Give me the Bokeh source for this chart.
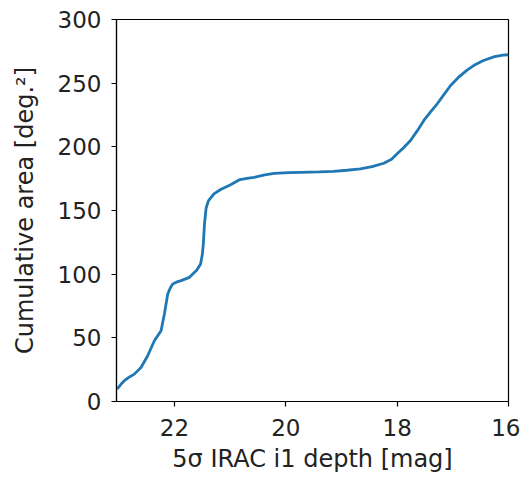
from bokeh.plotting import figure
from bokeh.models import Range1d, FixedTicker
from bokeh.embed import file_html
from bokeh.resources import INLINE

# 5-sigma IRAC i1 depth [mag] and cumulative area [deg^2]
depth = [23.03, 22.96, 22.90, 22.80, 22.72, 22.60, 22.48, 22.36, 22.24, 22.18,
         22.12, 22.07, 22.03, 21.95, 21.88, 21.73, 21.60, 21.53, 21.50, 21.48,
         21.46, 21.43, 21.39, 21.29, 21.17, 21.00, 20.84, 20.70, 20.57, 20.40,
         20.21, 19.95, 19.73, 19.40, 19.14, 18.90, 18.66, 18.45, 18.24, 18.10,
         18.00, 17.88, 17.76, 17.64, 17.52, 17.40, 17.28, 17.16, 17.04, 16.90,
         16.75, 16.60, 16.45, 16.25, 16.10, 16.00]
area = [9.7, 13.5, 16.3, 19.5, 21.5, 26.7, 35.9, 47.7, 55.6, 68.7,
        84.4, 89.5, 92.3, 94.0, 94.9, 97.5, 103.0, 108.0, 115.0, 124.0,
        139.5, 152.0, 157.5, 163.0, 166.5, 170.0, 174.0, 175.2, 176.0, 177.8,
        179.2, 179.7, 180.0, 180.4, 180.8, 181.6, 182.7, 184.5, 187.1, 190.2,
        194.5, 199.5, 205.0, 212.5, 220.7, 227.5, 233.8, 241.0, 248.2, 254.5,
        260.0, 264.5, 267.8, 270.8, 272.0, 272.3]

x_ticks = [16, 18, 20, 22]
y_ticks = [0, 50, 100, 150, 200, 250, 300]

p = figure(
    width=520, height=469,
    frame_width=392, frame_height=382,
    x_range=Range1d(23.04, 16), y_range=Range1d(0, 300),
    output_backend="svg", toolbar_location=None,
    min_border_left=116, min_border_top=19, min_border_right=12, min_border_bottom=68,
)
p.line(depth, area, line_color="#1f77b4", line_width=2.8)

FONT = "DejaVu Sans"
for ax in (p.xaxis[0], p.yaxis[0]):
    ax.axis_line_color = "black"
    ax.axis_line_width = 1.2
    ax.major_tick_line_color = "black"
    ax.major_tick_line_width = 1.2
    ax.major_tick_in = 0
    ax.major_tick_out = 5
    ax.minor_tick_line_color = None
    ax.major_label_text_font = FONT
    ax.major_label_text_font_size = "23px"
    ax.major_label_text_color = "#222222"
    ax.axis_label_text_font = FONT
    ax.axis_label_text_font_size = "24px"
    ax.axis_label_text_font_style = "normal"
    ax.axis_label_text_color = "#222222"

p.xaxis.ticker = FixedTicker(ticks=x_ticks)
p.yaxis.ticker = FixedTicker(ticks=y_ticks)
p.xaxis.axis_label = "5σ IRAC i1 depth [mag]"
p.yaxis.axis_label = "Cumulative area [deg.²]"
p.xaxis.major_label_standoff = 12
p.yaxis.major_label_standoff = 10
p.xaxis.axis_label_standoff = 6
p.yaxis.axis_label_standoff = 16

p.xgrid.visible = False
p.ygrid.visible = False
p.outline_line_color = "black"
p.outline_line_width = 1.2
p.outline_line_alpha = 1.0
p.background_fill_color = "white"
p.border_fill_color = "white"

open("out.html", "w").write(file_html(p, INLINE))
